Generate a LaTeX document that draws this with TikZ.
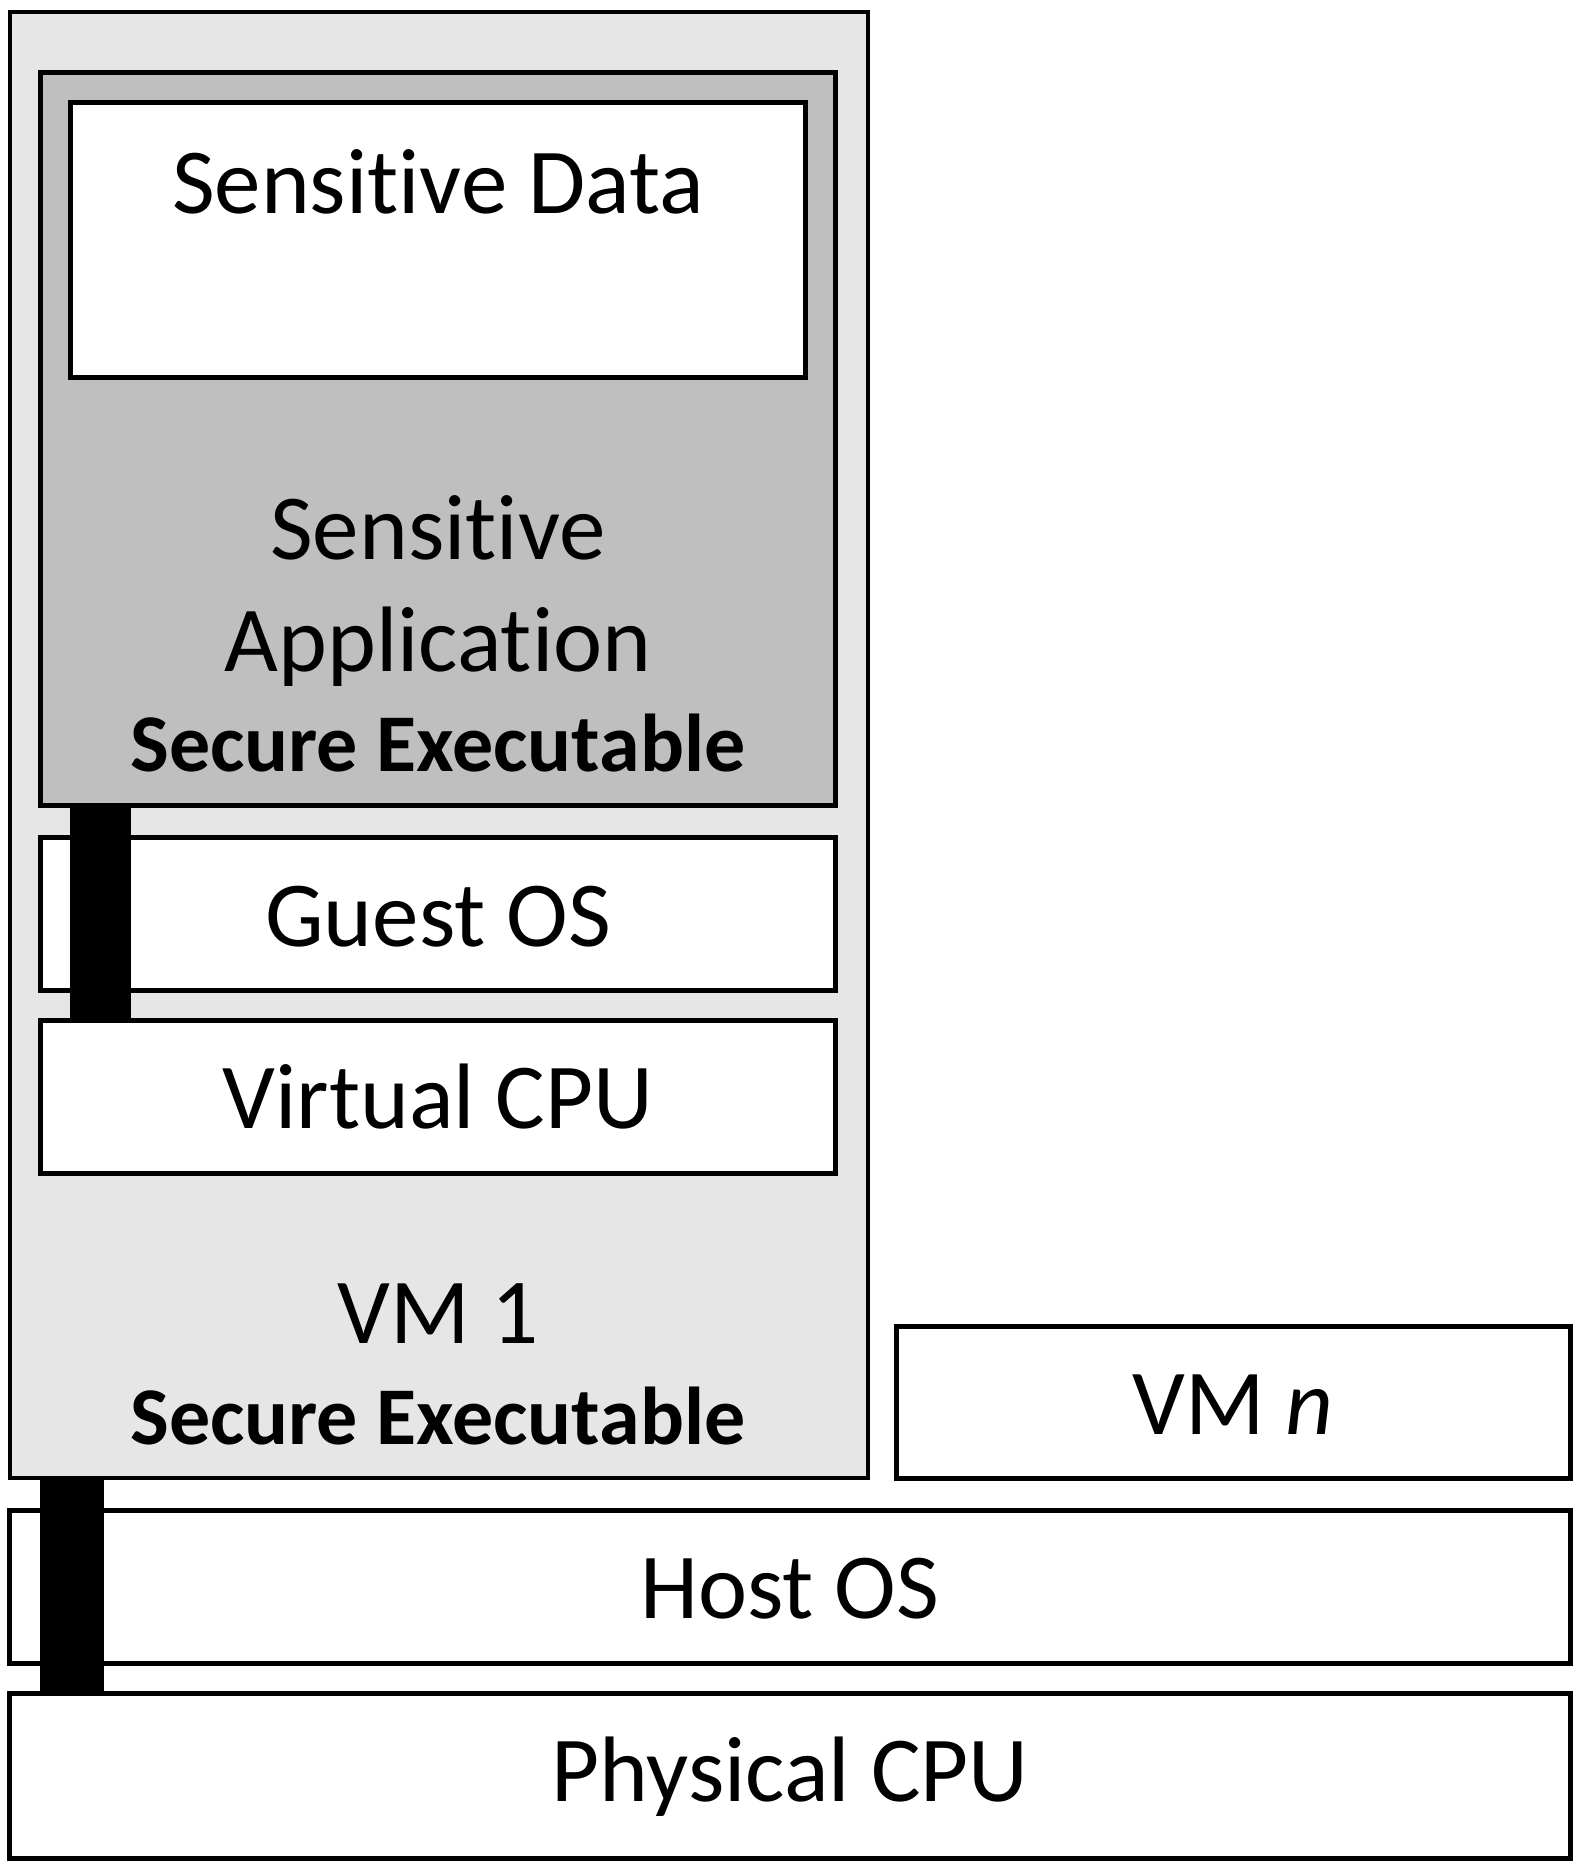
\documentclass[tikz,border=0pt]{standalone}
\usepackage{fontspec}
\setmainfont[RawFeature={-liga;-clig;-dlig}]{Carlito}
\definecolor{vmgray}{RGB}{230,230,230}
\definecolor{segray}{RGB}{191,191,191}
\begin{document}
\begin{tikzpicture}[x=1pt,y=-1pt,
  box/.style={draw=black,line width=4.5pt,rectangle,inner sep=0pt},
  big/.style={font=\fontsize{93}{110}\selectfont,anchor=base,inner sep=0pt},
  bld/.style={font=\fontsize{82}{100}\selectfont\bfseries,anchor=base,inner sep=0pt}]
\useasboundingbox (0,0) rectangle (1586,1874);
% boxes
\node[box,fill=vmgray,minimum width=858pt,minimum height=1466pt] (vm1) at (439,745) {};
\node[box,fill=segray,minimum width=795pt,minimum height=733pt] (app) at (438,439) {};
\node[box,fill=white,minimum width=735pt,minimum height=275pt] (data) at (438,240) {};
\node[box,fill=white,minimum width=795pt,minimum height=153pt] (guest) at (438,914) {};
\node[box,fill=white,minimum width=795pt,minimum height=153pt] (vcpu) at (438,1097) {};
\node[box,fill=white,minimum width=674pt,minimum height=152pt] (vmn) at (1233.5,1402.5) {};
\node[box,fill=white,minimum width=1561pt,minimum height=153pt] (host) at (790,1587) {};
\node[box,fill=white,minimum width=1561pt,minimum height=165pt] (phys) at (790,1776) {};
% black bars
\coordinate (b1a) at (69.5,0);
\coordinate (b1b) at (130.5,0);
\fill[black] (app.south -| b1a) rectangle (vcpu.north -| b1b);
\coordinate (b2a) at (39.5,0);
\coordinate (b2b) at (104,0);
\fill[black] (vm1.south -| b2a) rectangle (phys.north -| b2b);
% texts
\node[big] (tdata) at (438,213) {Sensitive Data};
\node[big] (tsens) at (438,559) {Sensitive};
\node[big] (tappl) at (438,671.7) {Application};
\node[bld] (tse1) at (438,771) {Secure Executable};
\node[big] (tguest) at (438,946.6) {Guest OS};
\node[big] (tvcpu) at (438,1128) {Virtual CPU};
\node[big] (tvm1) at (438,1343) {VM 1};
\node[bld] (tse2) at (438,1444) {Secure Executable};
\node[big] (tvmn) at (1233,1434) {VM \textit{n}};
\node[big] (thost) at (790,1618) {Host OS};
\node[big] (tphys) at (790,1801) {Physical CPU};
\end{tikzpicture}
\end{document}
